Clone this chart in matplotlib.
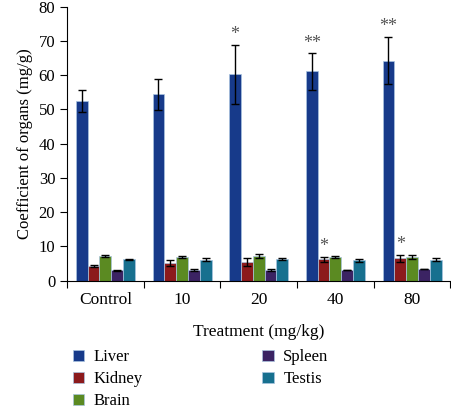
import matplotlib
matplotlib.use("Agg")
import matplotlib.pyplot as plt
import numpy as np

plt.rcParams['font.family'] = ['Liberation Serif', 'DejaVu Serif']

# data
doses = ["Control", "10", "20", "40", "80"]
organs = ["Liver", "Kidney", "Brain", "Spleen", "Testis"]
colors = ["#173a8a", "#8c1a1c", "#5b8a22", "#3b2363", "#17708f"]

liver = [52.4, 54.4, 60.3, 61.1, 64.2]
liver_err = [3.2, 4.5, 8.6, 5.3, 6.9]
kidney = [4.4, 5.2, 5.5, 6.2, 6.5]
kidney_err = [0.3, 0.8, 1.2, 0.7, 1.1]
brain = [7.2, 6.8, 7.2, 7.0, 6.9]
brain_err = [0.4, 0.3, 0.7, 0.3, 0.7]
spleen = [3.0, 3.0, 3.1, 3.1, 3.4]
spleen_err = [0.1, 0.3, 0.3, 0.1, 0.1]
testis = [6.2, 6.1, 6.3, 6.0, 6.1]
testis_err = [0.1, 0.4, 0.3, 0.4, 0.4]

# significance marks (organ index, dose index, label)
marks = [(0, 2, "*"), (0, 3, "**"), (0, 4, "**"), (1, 3, "*"), (1, 4, "*")]

values = [liver, kidney, brain, spleen, testis]
errors = [liver_err, kidney_err, brain_err, spleen_err, testis_err]

fig = plt.figure(figsize=(4.51, 4.12), dpi=100)
ax = fig.add_axes([0.1486, 0.3187, 0.85, 0.665])

x = np.arange(len(doses))
w = 0.154
for i, (name, vals, errs) in enumerate(zip(organs, values, errors)):
    ax.bar(x + (i - 2) * w, vals, w, color=colors[i], edgecolor="#a9c4e0",
           linewidth=0.5, label=name, zorder=2)
    ax.errorbar(x + (i - 2) * w, vals, yerr=errs, fmt="none", ecolor="black",
                elinewidth=1, capsize=3, capthick=1, zorder=3)

for oi, di, s in marks:
    top = values[oi][di] + errors[oi][di]
    ax.text(x[di] + (oi - 2) * w, top + 0.5, s, ha="center", va="bottom",
            fontsize=13, color="#555555")

ax.set_ylim(0, 80)
ax.set_xlim(-0.5, 4.5)
ax.set_yticks(range(0, 81, 10))
ax.set_xticks(np.arange(-0.5, 5, 1))
ax.set_xticklabels([])
ax.set_xticks(x, minor=True)
ax.set_xticklabels(doses, minor=True)
ax.tick_params(axis="x", which="major", length=5, direction="out")
ax.tick_params(axis="x", which="minor", length=0, pad=8, labelsize=12.5)
ax.tick_params(axis="y", length=5, labelsize=12)
for sp in ["top", "right"]:
    ax.spines[sp].set_visible(False)

ax.set_ylabel("Coefficient of organs (mg/g)", fontsize=12)
ax.set_xlabel("Treatment (mg/kg)", fontsize=12.5, labelpad=12)

fig.legend(loc="upper left", bbox_to_anchor=(0.146, 0.168), ncol=2,
           frameon=False, fontsize=12, handlelength=0.7, handleheight=0.7,
           handletextpad=0.55, labelspacing=0.36, columnspacing=7.2,
           borderaxespad=0)

fig.savefig("out.png", dpi=100)
